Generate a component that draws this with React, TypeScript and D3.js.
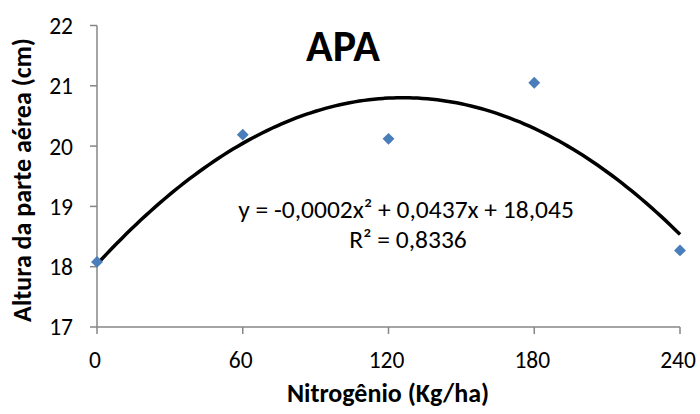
import React from "react";
import * as d3 from "d3";

const nitrogen = [0, 60, 120, 180, 240];
const height = [18.08, 20.19, 20.12, 21.05, 18.27];
const xTicks = [0, 60, 120, 180, 240];
const yTicks = [17, 18, 19, 20, 21, 22];
const title = "APA";
const xTitle = "Nitrogênio (Kg/ha)";
const yTitle = "Altura da parte aérea (cm)";
const eqLine1 = "y = -0,0002x² + 0,0437x + 18,045";
const eqLine2 = "R² = 0,8336";

// least-squares quadratic trendline from the data (like the spreadsheet trendline)
function fitQuadratic(xs: number[], ys: number[]) {
  const n = xs.length;
  let s1 = 0, s2 = 0, s3 = 0, s4 = 0, sy = 0, sxy = 0, sx2y = 0;
  for (let i = 0; i < n; i++) {
    const x = xs[i], y = ys[i];
    s1 += x; s2 += x * x; s3 += x ** 3; s4 += x ** 4;
    sy += y; sxy += x * y; sx2y += x * x * y;
  }
  const M = [
    [n, s1, s2, sy],
    [s1, s2, s3, sxy],
    [s2, s3, s4, sx2y],
  ];
  for (let i = 0; i < 3; i++) {
    for (let k = i + 1; k < 3; k++) {
      const f = M[k][i] / M[i][i];
      for (let j = i; j < 4; j++) M[k][j] -= f * M[i][j];
    }
  }
  const c = [0, 0, 0];
  for (let i = 2; i >= 0; i--) {
    let s = M[i][3];
    for (let j = i + 1; j < 3; j++) s -= M[i][j] * c[j];
    c[i] = s / M[i][i];
  }
  return (x: number) => c[0] + c[1] * x + c[2] * x * x;
}

const FONT = "Carlito, Lato, 'Open Sans', sans-serif";

export default function App() {
  const W = 700, H = 414;
  const x = d3.scaleLinear().domain([0, 240]).range([97, 680]);
  const y = d3.scaleLinear().domain([17, 22]).range([327, 25.5]);
  const f = fitQuadratic(nitrogen, height);
  const curvePts: [number, number][] = d3.range(0, 240.0001, 2).map((v) => [v, f(v)]);
  const line = d3.line<[number, number]>().x((d) => x(d[0])).y((d) => y(d[1])).curve(d3.curveMonotoneX);
  const axisColor = "#868686";
  const diamond = d3.symbol().type(d3.symbolDiamond2).size(90)();

  return (
    <svg width={W} height={H} style={{ position: "absolute", left: 0, top: 0, background: "#fff" }} fontFamily={FONT}>
      <rect width={W} height={H} fill="#fff" />
      {/* axes */}
      <line x1={x(0)} x2={x(0)} y1={y(22)} y2={y(17)} stroke={axisColor} strokeWidth={1.5} />
      <line x1={x(0)} x2={x(240)} y1={y(17)} y2={y(17)} stroke={axisColor} strokeWidth={1.5} />
      {yTicks.map((t) => (
        <g key={"y" + t}>
          <line x1={x(0) - 7} x2={x(0)} y1={y(t)} y2={y(t)} stroke={axisColor} strokeWidth={1.5} />
          <text x={73} y={y(t)} dy="0.36em" textAnchor="end" fontSize={23.5} fill="#000">{t}</text>
        </g>
      ))}
      {xTicks.map((t) => (
        <g key={"x" + t}>
          <line x1={x(t)} x2={x(t)} y1={y(17)} y2={y(17) + 7} stroke={axisColor} strokeWidth={1.5} />
          <text x={x(t) - 2} y={360} dy="0.36em" textAnchor="middle" fontSize={23.5} fill="#000">{t}</text>
        </g>
      ))}
      {/* trendline */}
      <path d={line(curvePts) || ""} fill="none" stroke="#000" strokeWidth={3.5} />
      {/* points */}
      {nitrogen.map((n, i) => (
        <path key={"p" + i} d={diamond || ""} transform={`translate(${x(n)},${y(height[i])})`} fill="#4a7ebb" />
      ))}
      {/* titles */}
      <text x={343} y={45.5} dy="0.36em" textAnchor="middle" fontSize={44} fontWeight="bold" fill="#000">{title}</text>
      <text x={388} y={393} dy="0.36em" textAnchor="middle" fontSize={26} fontWeight="bold" fill="#000">{xTitle}</text>
      <text transform={`translate(22,180) rotate(-90)`} dy="0.36em" textAnchor="middle" fontSize={26} fontWeight="bold" fill="#000">{yTitle}</text>
      {/* equation */}
      <text x={406} y={209} dy="0.36em" textAnchor="middle" fontSize={25.5} fill="#000">{eqLine1}</text>
      <text x={408} y={239} dy="0.36em" textAnchor="middle" fontSize={25.5} fill="#000">{eqLine2}</text>
    </svg>
  );
}
